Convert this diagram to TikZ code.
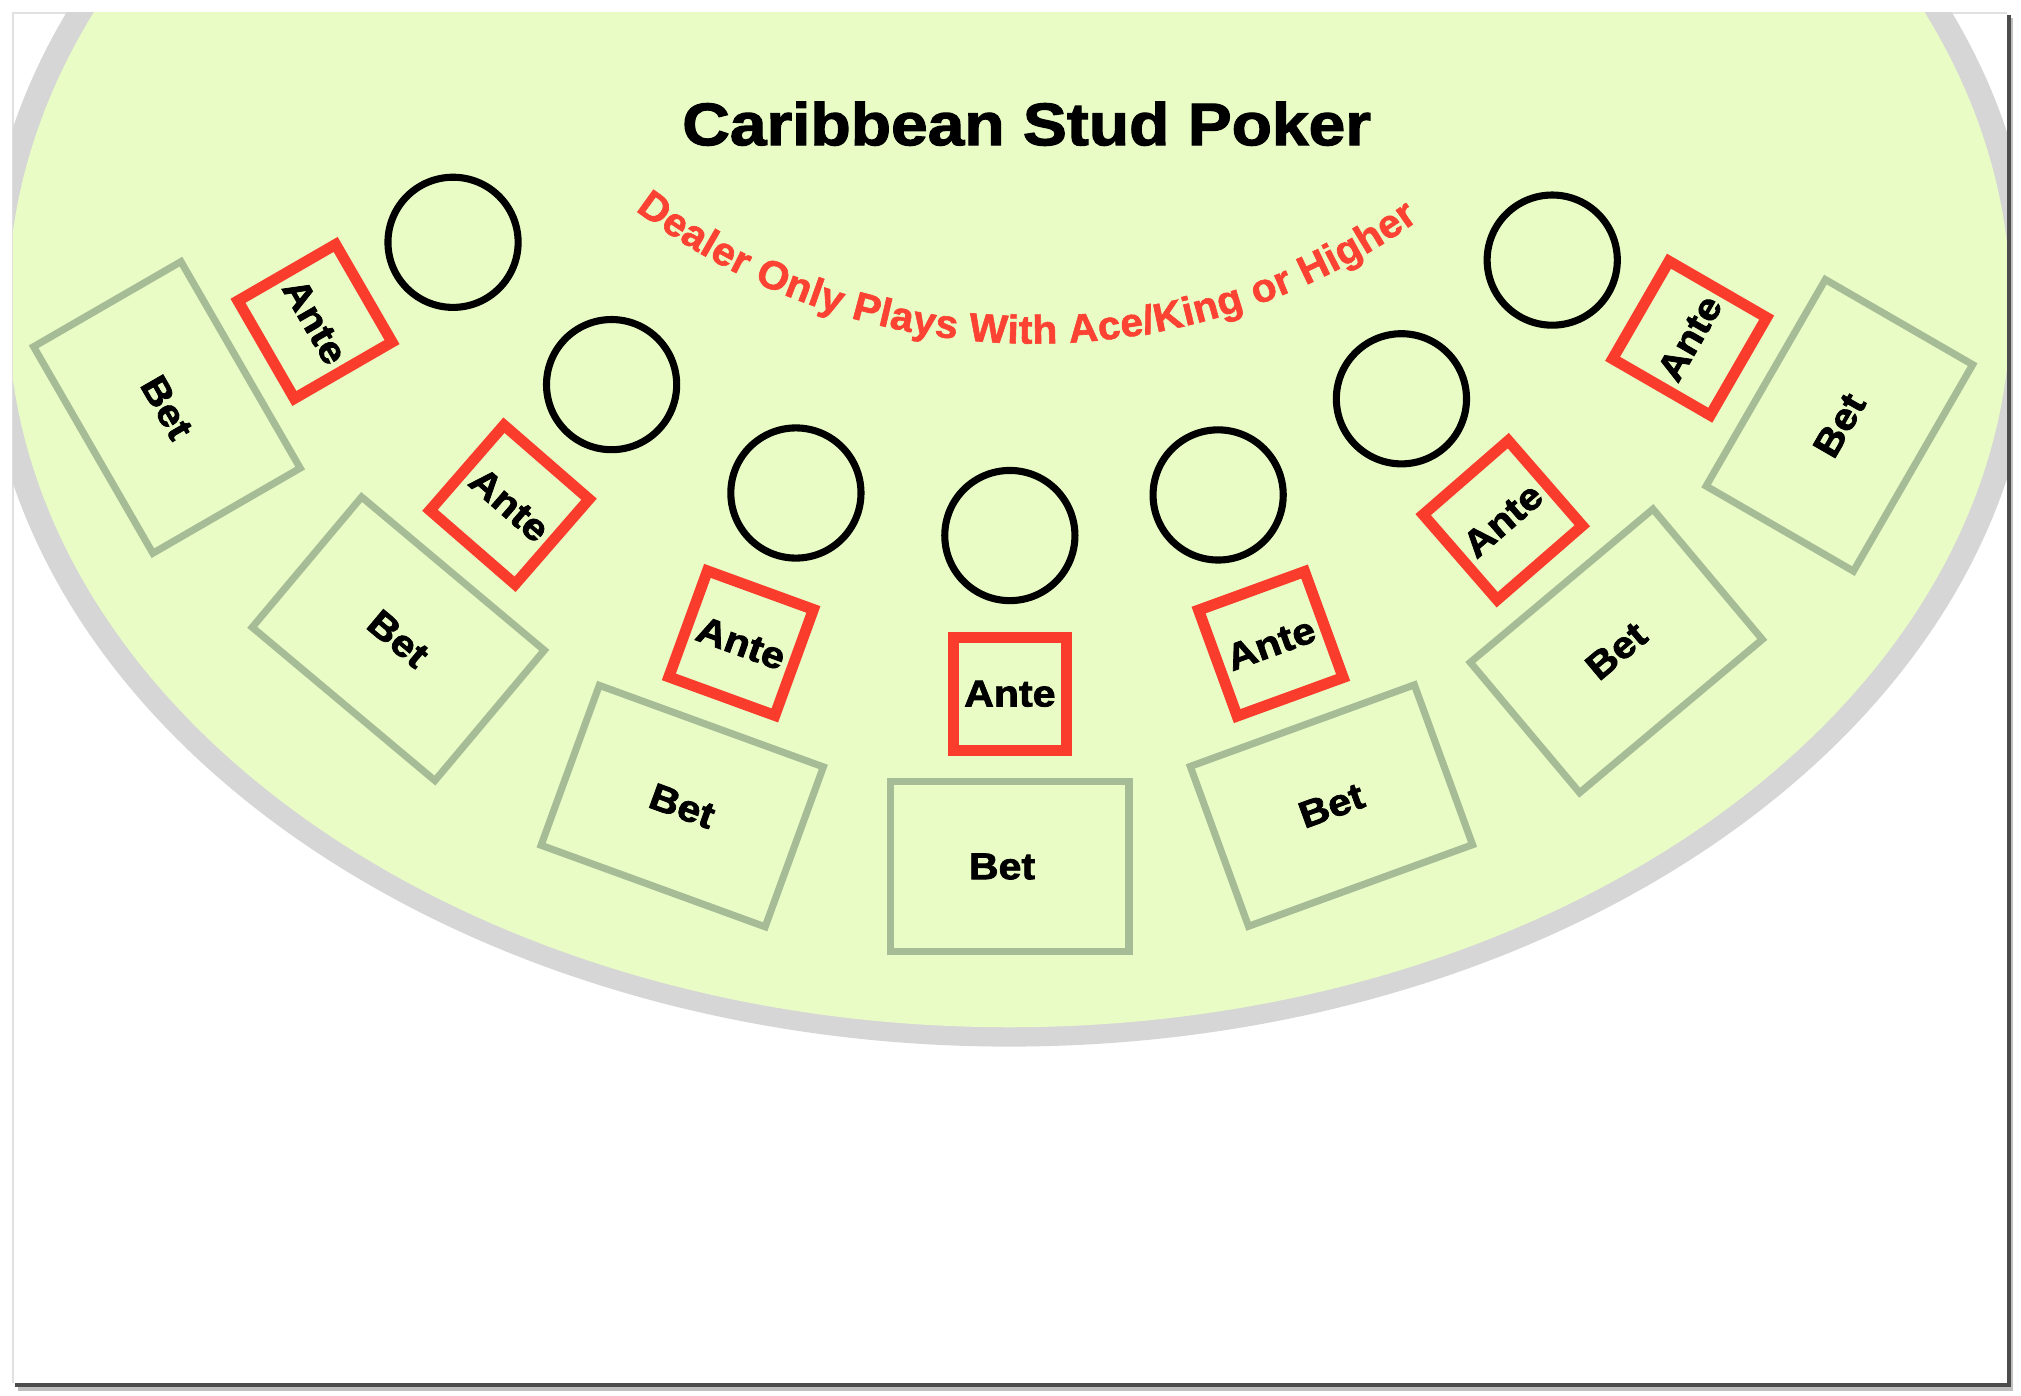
\documentclass[tikz,border=0pt]{standalone}
\usepackage{fontspec}
\setmainfont{Liberation Sans}
\newfontfamily\tfont[FakeStretch=1.1,FakeBold=2]{Liberation Sans}
\newfontfamily\afont[FakeStretch=1.02,FakeBold=1.5]{Liberation Sans}
\usetikzlibrary{decorations.text}
\definecolor{felt}{RGB}{233,252,198}
\definecolor{feltshadow}{RGB}{214,214,214}
\definecolor{antered}{RGB}{250,60,45}
\definecolor{arcred}{RGB}{252,66,50}
\definecolor{betgray}{RGB}{165,188,150}
\tikzset{
  chipring/.style={circle, draw=black, line width=5.5pt, minimum size=101pt, inner sep=0pt},
  antebox/.style={rectangle, draw=antered, line width=8.5pt, minimum size=87.5pt, inner sep=0pt,
     font=\tfont\bfseries\fontsize{29}{29}\selectfont},
  betbox/.style={rectangle, draw=betgray, line width=5.5pt, minimum width=185pt, minimum height=132pt,
     inner sep=0pt, font=\tfont\bfseries\fontsize{29}{29}\selectfont},
  titletext/.style={font=\tfont\bfseries\fontsize{46.5}{46.5}\selectfont, inner sep=0pt}
}
\begin{document}
\begin{tikzpicture}[x=1pt,y=-1pt]
\useasboundingbox (0,0) rectangle (1568,1083);
\fill[white] (0,0) rectangle (1568,1083);
% page with shadow
\fill[black!25] (14,14) rectangle (1562,1079);
\fill[black!70] (12,12) rectangle (1560,1076);
\fill[white] (10,10) rectangle (1557,1073);
\draw[black!12, line width=1pt] (10,1073) -- (10,10) -- (1557,10);
% table
\begin{scope}
  \clip (10,10) rectangle (1557,1073);
  \fill[feltshadow] (783,237) ellipse [x radius=796, y radius=575];
  \fill[felt] (783,237) ellipse [x radius=777, y radius=560];
\end{scope}
% title
\node[titletext, anchor=base] (title) at (796.5,112.6) {Caribbean Stud Poker};
% arc text
\path[decorate, decoration={text along path, text align={fit to path}, text color=arcred,
   text={|\afont\bfseries\fontsize{31}{31}\selectfont|Dealer Only Plays With Ace/King or Higher}}]
   (802,-247) ++(127:513.6) arc[start angle=127, end angle=54.5, radius=513.6];
% chip circles
\node[chipring] (c1) at (351.5,188) {};
\node[chipring] (c2) at (474.5,298.4) {};
\node[chipring] (c3) at (617.5,382.5) {};
\node[chipring] (c4) at (783.5,415.5) {};
\node[chipring] (c5) at (945.1,384) {};
\node[chipring] (c6) at (1087.3,309.4) {};
\node[chipring] (c7) at (1204.3,201.8) {};
% ante boxes
\node[antebox, rotate=-60] (a1) at (244.4,249.4) {Ante};
\node[antebox, rotate=-41] (a2) at (395.3,391.6) {Ante};
\node[antebox, rotate=-20] (a3) at (575,499) {Ante};
\node[antebox] (a4) at (783.5,538.3) {Ante};
\node[antebox, rotate=20] (a5) at (986,499.5) {Ante};
\node[antebox, rotate=41] (a6) at (1165.9,403.6) {Ante};
\node[antebox, rotate=60] (a7) at (1310.9,262.4) {Ante};
% bet boxes
\node[betbox, rotate=-60] (b1) at (129.5,316.1) {Bet};
\node[betbox, rotate=-40] (b2) at (309,495.6) {Bet};
\node[betbox, rotate=-20] (b3) at (529.3,625.4) {Bet};
\node[betbox] (b4) at (783.4,672.3) {\hspace*{-12pt}Bet};
\node[betbox, rotate=20] (b5) at (1033,625) {Bet};
\node[betbox, rotate=40] (b6) at (1254,505) {Bet};
\node[betbox, rotate=60] (b7) at (1427.1,330) {Bet};
\end{tikzpicture}
\end{document}
